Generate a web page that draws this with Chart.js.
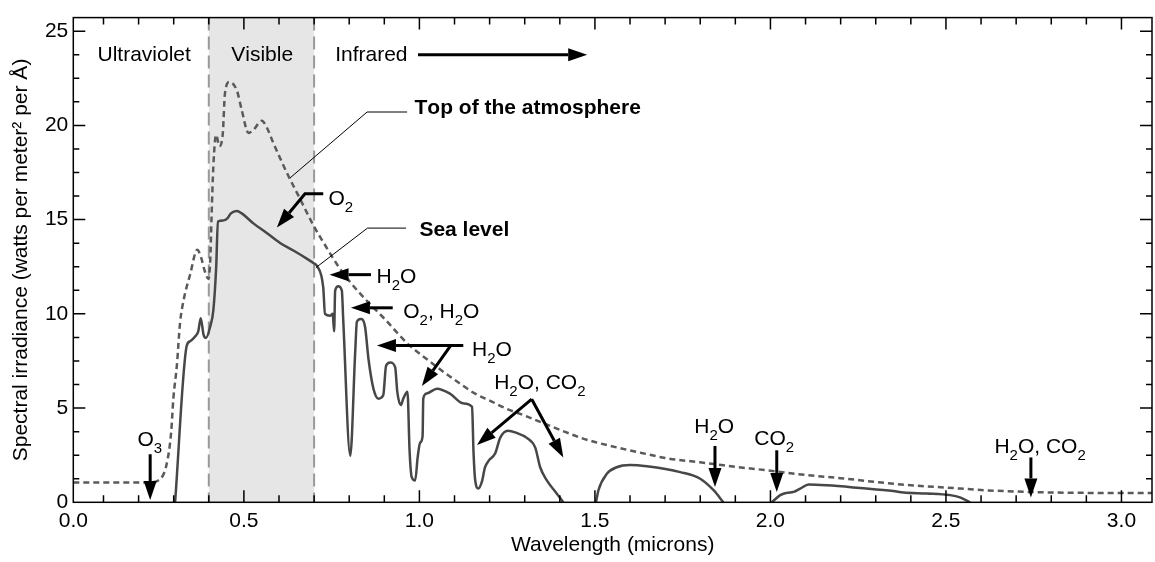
<!DOCTYPE html>
<html>
<head>
<meta charset="utf-8">
<title>Espectro solar</title>
<script src="https://cdn.jsdelivr.net/npm/chart.js@4.4.1/dist/chart.umd.min.js"></script>
<style>
  html, body { margin: 0; padding: 0; background: #fff; }
</style>
</head>
<body>
<canvas id="espectroChart" width="1155" height="562"></canvas>
<script>
// Datos (micras, W/m²/Å)
const topoX = [0.014, 0.10, 0.20, 0.235, 0.256, 0.28, 0.293, 0.299, 0.309, 0.318, 0.328, 0.347, 0.367, 0.378, 0.388, 0.399,
  0.404, 0.408, 0.413, 0.421, 0.430, 0.440, 0.446, 0.459, 0.480, 0.494, 0.513, 0.527, 0.551, 0.565, 0.584, 0.622, 0.660,
  0.698, 0.736, 0.765, 0.80, 0.86, 0.90, 0.97, 1.0, 1.07, 1.1, 1.16, 1.2, 1.25, 1.3, 1.4, 1.46, 1.5, 1.6, 1.65, 1.7, 1.8,
  1.84, 1.9, 2.0, 2.1, 2.2, 2.26, 2.3, 2.4, 2.5, 2.54, 2.6, 2.7, 2.8, 2.9, 3.0, 3.087];
const topoY = [1.05, 1.05, 1.05, 1.07, 1.16, 2.03, 3.77, 5.5, 7.25, 9.5, 10.7, 12.1, 13.4, 13.0, 12.3, 11.85,
  12.8, 15.2, 17.85, 19.5, 18.9, 19.6, 21.7, 22.3, 21.85, 20.8, 19.6, 19.76, 20.25, 19.9, 19.06, 17.5, 16.1,
  14.7, 13.5, 12.63, 11.75, 10.5, 9.75, 8.35, 7.9, 6.9, 6.5, 5.75, 5.4, 4.95, 4.6, 3.85, 3.42, 3.2, 2.75, 2.55, 2.35, 2.12,
  2.03, 1.88, 1.68, 1.45, 1.28, 1.16, 1.08, 0.9, 0.78, 0.73, 0.65, 0.57, 0.52, 0.5, 0.5, 0.5];

const marX = [0.304, 0.337, 0.347, 0.361, 0.370, 0.377, 0.385, 0.392, 0.404, 0.413, 0.421, 0.426, 0.442, 0.453, 0.463,
  0.480, 0.494, 0.527, 0.565, 0.603, 0.641, 0.679, 0.700, 0.708, 0.726, 0.731, 0.746, 0.753, 0.757, 0.760, 0.769, 0.779,
  0.783, 0.803, 0.817, 0.822, 0.833, 0.845, 0.855, 0.869, 0.883, 0.897, 0.905, 0.917, 0.931, 0.937, 0.947, 0.954, 0.966,
  0.972, 0.978, 0.988, 0.995, 1.002, 1.009, 1.011, 1.021, 1.05, 1.087, 1.125, 1.150, 1.154, 1.159, 1.168, 1.178, 1.187,
  1.197, 1.216, 1.23, 1.252, 1.277, 1.306, 1.33, 1.344, 1.363, 1.391, 1.41, 1.455, 1.503, 1.51, 1.534, 1.562, 1.6, 1.648,
  1.743, 1.8, 1.838, 1.866, 1.93, 2.004, 2.028, 2.047, 2.066, 2.085, 2.109, 2.161, 2.255, 2.35, 2.379, 2.446, 2.512,
  2.54, 2.569];
const marY = [0, 8.29, 8.55, 8.8, 9.07, 9.77, 8.9, 8.72, 9.33, 10.2, 12.46, 14.9, 14.96, 15.07, 15.33,
  15.46, 15.33, 14.8, 14.29, 13.76, 13.36, 12.93, 12.67, 12.55, 11.4, 10.0, 9.9, 10.0, 9.07, 11.24, 11.47, 11.24,
  9.68, 2.47, 7.94, 9.59, 9.73, 9.33, 7.59, 6.03, 5.5, 5.68, 7.25, 7.42, 7.16, 5.86, 5.16, 5.5, 5.86,
  2.73, 1.34, 1.16, 2.38, 3.16, 3.5, 5.5, 5.77, 6.03, 5.77, 5.25, 5.07, 2.73, 1.16, 0.73, 1.1, 1.86,
  2.2, 2.6, 3.42, 3.8, 3.68, 3.42, 2.9, 1.86, 1.16, 0.47, 0, null, 0, 0.64, 1.51, 1.86, 1.98, 1.91,
  1.6, 1.25, 0.64, 0, null, 0, 0.38, 0.5, 0.55, 0.73, 0.94, 0.9, 0.76, 0.6, 0.52, 0.47, 0.38,
  0.26, 0];

const xTickValues = [0, 0.5, 1.0, 1.5, 2.0, 2.5, 3.0];
const xTickLabels = ['0.0', '0.5', '1.0', '1.5', '2.0', '2.5', '3.0'];
const yTickValues = [0, 5, 10, 15, 20, 25];
const yTickLabels = ['0', '5', '10', '15', '20', '25'];

const X_MIN = 0.014;
const X_MAX = 3.087;
const Y_MAX = 25.72;
const FUENTE = '"Liberation Sans", Arial, Helvetica, sans-serif';
const TAM = 21;

// Bandas y rótulos
const bandaVisible = [0.4, 0.7];

const textos = [
  { t: 'Ultraviolet', x: 0.216, y: 23.41, align: 'center' },
  { t: 'Visible', x: 0.552, y: 23.41, align: 'center' },
  { t: 'Infrared', x: 0.760, y: 23.41 },
  { t: 'Top of the atmosphere', x: 0.986, y: 20.6, bold: true },
  { t: 'Sea level', x: 1.000, y: 14.11, bold: true },
  { t: 'O_2', x: 0.741, y: 15.76 },
  { t: 'H_2O', x: 0.878, y: 11.63 },
  { t: 'O_2, H_2O', x: 0.954, y: 9.8 },
  { t: 'H_2O', x: 1.150, y: 7.77 },
  { t: 'H_2O, CO_2', x: 1.213, y: 6.0 },
  { t: 'H_2O', x: 1.783, y: 3.68 },
  { t: 'CO_2', x: 1.954, y: 3.04 },
  { t: 'H_2O, CO_2', x: 2.638, y: 2.64 },
  { t: 'O_3', x: 0.197, y: 2.99 }
];

const flechas = [
  { p: [[0.996, 23.75], [1.478, 23.75]] },
  { p: [[0.726, 16.37], [0.674, 16.37], [0.594, 14.58]] },
  { p: [[0.862, 12.08], [0.744, 12.08]] },
  { p: [[0.924, 10.32], [0.805, 10.32]] },
  { p: [[1.125, 8.32], [0.879, 8.32]] },
  { p: [[1.089, 8.32], [1.007, 6.17]] },
  { p: [[1.32, 5.47], [1.164, 3.04]] },
  { p: [[1.32, 5.47], [1.41, 2.38]] },
  { p: [[1.842, 2.99], [1.842, 0.81]] },
  { p: [[2.018, 2.76], [2.018, 0.55]] },
  { p: [[2.742, 2.38], [2.742, 0.26]] },
  { p: [[0.233, 2.55], [0.233, 0.12]] }
];

const guias = [
  [[0.632, 17.22], [0.851, 20.71], [0.965, 20.71]],
  [[0.705, 12.45], [0.852, 14.55], [0.962, 14.55]]
];

function puntos(xs, ys) {
  return xs.map((x, i) => ({ x: x, y: ys[i] }));
}

// texto con subíndices: "H_2O" -> H₂O
function textoRico(ctx, str, x, y, bold, align) {
  const base = (bold ? 'bold ' : '') + TAM + 'px ' + FUENTE;
  const sub = '15px ' + FUENTE;
  const partes = [];
  for (let i = 0; i < str.length; i++) {
    if (str[i] === '_') { partes.push({ c: str[i + 1], s: true }); i++; }
    else partes.push({ c: str[i], s: false });
  }
  let ancho = 0;
  partes.forEach(p => { ctx.font = p.s ? sub : base; p.w = ctx.measureText(p.c).width; ancho += p.w; });
  let cx = align === 'center' ? x - ancho / 2 : x;
  ctx.textBaseline = 'alphabetic';
  ctx.textAlign = 'left';
  partes.forEach(p => {
    ctx.font = p.s ? sub : base;
    ctx.fillText(p.c, cx, p.s ? y + 7 : y);
    cx += p.w;
  });
}

const decoracion = {
  id: 'decoracion',
  beforeDatasetsDraw(chart) {
    const { ctx, chartArea: a, scales: { x } } = chart;
    const x1 = x.getPixelForValue(bandaVisible[0]);
    const x2 = x.getPixelForValue(bandaVisible[1]);
    ctx.save();
    ctx.fillStyle = '#e6e6e6';
    ctx.fillRect(x1, a.top, x2 - x1, a.bottom - a.top);
    ctx.strokeStyle = '#999';
    ctx.lineWidth = 2;
    ctx.setLineDash([13, 6]);
    [x1, x2].forEach(px => {
      ctx.beginPath();
      ctx.moveTo(px, a.top);
      ctx.lineTo(px, a.bottom);
      ctx.stroke();
    });
    ctx.restore();
  },
  afterDraw(chart) {
    const { ctx, chartArea: a, scales: { x, y } } = chart;
    ctx.save();
    // marco
    ctx.strokeStyle = '#000';
    ctx.lineWidth = 1.5;
    ctx.strokeRect(a.left, a.top, a.right - a.left, a.bottom - a.top);
    // marcas hacia dentro
    ctx.beginPath();
    for (let i = 1; i <= 30; i++) {
      const px = x.getPixelForValue(i / 10);
      const l = i % 5 === 0 ? 12 : 7;
      ctx.moveTo(px, a.bottom); ctx.lineTo(px, a.bottom - l);
      ctx.moveTo(px, a.top); ctx.lineTo(px, a.top + l);
    }
    for (let i = 1; i <= 20; i++) {
      const py = y.getPixelForValue(i * 1.25);
      const l = i % 4 === 0 ? 12 : 6;
      ctx.moveTo(a.left, py); ctx.lineTo(a.left + l, py);
      ctx.moveTo(a.right, py); ctx.lineTo(a.right - l, py);
    }
    ctx.stroke();

    // líneas guía
    ctx.lineWidth = 1;
    guias.forEach(g => {
      ctx.beginPath();
      g.forEach((p, i) => {
        const px = x.getPixelForValue(p[0]), py = y.getPixelForValue(p[1]);
        if (i === 0) ctx.moveTo(px, py); else ctx.lineTo(px, py);
      });
      ctx.stroke();
    });

    // flechas
    ctx.fillStyle = '#000';
    flechas.forEach(f => {
      const pts = f.p.map(p => [x.getPixelForValue(p[0]), y.getPixelForValue(p[1])]);
      const n = pts.length;
      const [tx, ty] = pts[n - 1];
      const [sx, sy] = pts[n - 2];
      const ang = Math.atan2(ty - sy, tx - sx);
      const hl = 19, hw = 6.5;
      const bx = tx - hl * Math.cos(ang), by = ty - hl * Math.sin(ang);
      ctx.lineWidth = 3;
      ctx.lineJoin = 'miter';
      ctx.beginPath();
      pts.forEach((p, i) => {
        if (i === n - 1) ctx.lineTo(bx, by);
        else if (i === 0) ctx.moveTo(p[0], p[1]);
        else ctx.lineTo(p[0], p[1]);
      });
      ctx.stroke();
      ctx.beginPath();
      ctx.moveTo(tx, ty);
      ctx.lineTo(bx + hw * Math.sin(ang), by - hw * Math.cos(ang));
      ctx.lineTo(bx - hw * Math.sin(ang), by + hw * Math.cos(ang));
      ctx.closePath();
      ctx.fill();
    });

    // textos
    ctx.fillStyle = '#000';
    textos.forEach(t => {
      textoRico(ctx, t.t, x.getPixelForValue(t.x), y.getPixelForValue(t.y), t.bold, t.align);
    });
    ctx.restore();
  }
};

Chart.defaults.font.family = FUENTE;
Chart.defaults.color = '#000';

const ctxEspectro = document.getElementById('espectroChart');
new Chart(ctxEspectro, {
  type: 'line',
  data: {
    datasets: [{
      label: 'Top of the atmosphere',
      data: puntos(topoX, topoY),
      borderColor: '#5a5a5a',
      borderWidth: 2.5,
      borderDash: [6, 4],
      pointRadius: 0,
      cubicInterpolationMode: 'monotone',
      fill: false
    }, {
      label: 'Sea level',
      data: puntos(marX, marY),
      borderColor: '#474747',
      borderWidth: 2.5,
      pointRadius: 0,
      cubicInterpolationMode: 'monotone',
      spanGaps: false,
      fill: false
    }]
  },
  options: {
    responsive: false,
    animation: false,
    layout: { padding: { left: 0, right: 3, top: 9, bottom: 0 } },
    plugins: {
      legend: { display: false },
      tooltip: { enabled: false }
    },
    scales: {
      x: {
        type: 'linear',
        min: X_MIN,
        max: X_MAX,
        grid: { display: false, drawTicks: false },
        border: { display: false },
        afterBuildTicks: s => { s.ticks = xTickValues.map(v => ({ value: Math.max(v, X_MIN) })); },
        afterFit: s => { s.height = 59.7; },
        ticks: {
          padding: 6,
          autoSkip: false,
          maxRotation: 0,
          font: { size: TAM },
          callback: (v, i) => xTickLabels[i]
        },
        title: {
          display: true,
          text: 'Wavelength (microns)',
          font: { size: TAM },
          padding: { top: 0, bottom: 4 }
        }
      },
      y: {
        min: 0,
        max: Y_MAX,
        grid: { display: false, drawTicks: false },
        border: { display: false },
        afterBuildTicks: s => { s.ticks = yTickValues.map(v => ({ value: v })); },
        afterFit: s => { s.width = 73.3; },
        ticks: {
          padding: 5,
          autoSkip: false,
          font: { size: TAM },
          callback: (v, i) => yTickLabels[i]
        },
        title: {
          display: true,
          text: 'Spectral irradiance (watts per meter² per Å)',
          font: { size: TAM },
          padding: { top: 9, bottom: 0 }
        }
      }
    }
  },
  plugins: [decoracion]
});
</script>
</body>
</html>
